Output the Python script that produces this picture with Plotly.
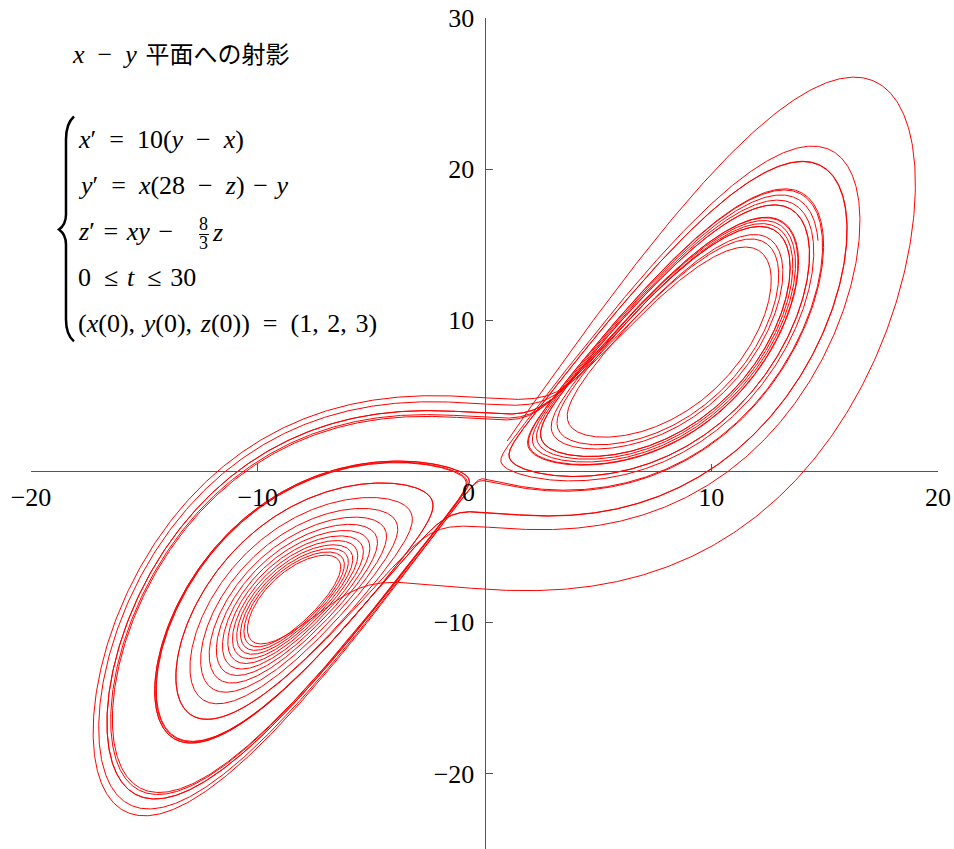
"""Lorenz attractor, projection onto the x-y plane"""

import plotly.graph_objects as go

# system parameters and settings shown in the chart
SIGMA = 10.0
RHO = 28.0
BETA = 8.0 / 3.0
T_START = 0.0
T_END = 30.0
INITIAL = (1.0, 2.0, 3.0)
N_STEPS = 150000

x_ticks = [-20, -10, 10, 20]
y_ticks = [-20, -10, 10, 20, 30]

EN = "\u2002"   # wide space round relations
MS = "\u2004"   # medium space

title_latin = f"<i>x</i>{EN}−{EN}<i>y</i>{MS}"
title_cjk = "平面への射影"
eq_lines = [
    f"<i>x</i>′{EN}={EN}10(<i>y</i>{EN}−{EN}<i>x</i>)",
    f"<i>y</i>′{EN}={EN}<i>x</i>(28{EN}−{EN}<i>z</i>){MS}−{MS}<i>y</i>",
    f"<i>z</i>′{MS}={MS}<i>xy</i>{MS}−",
    f"0{EN}≤{MS}<i>t</i>{EN}≤{MS}30",
    f"(<i>x</i>(0),{MS}<i>y</i>(0),{MS}<i>z</i>(0)){EN}={EN}(1,{MS}2,{MS}3)",
]


def lorenz(x, y, z):
    return SIGMA * (y - x), x * (RHO - z) - y, x * y - BETA * z


def solve():
    h = (T_END - T_START) / N_STEPS
    x, y, z = INITIAL
    xs, ys = [x], [y]
    for i in range(N_STEPS):
        k1 = lorenz(x, y, z)
        k2 = lorenz(x + h / 2 * k1[0], y + h / 2 * k1[1], z + h / 2 * k1[2])
        k3 = lorenz(x + h / 2 * k2[0], y + h / 2 * k2[1], z + h / 2 * k2[2])
        k4 = lorenz(x + h * k3[0], y + h * k3[1], z + h * k3[2])
        x += h / 6 * (k1[0] + 2 * k2[0] + 2 * k3[0] + k4[0])
        y += h / 6 * (k1[1] + 2 * k2[1] + 2 * k3[1] + k4[1])
        z += h / 6 * (k1[2] + 2 * k2[2] + 2 * k3[2] + k4[2])
        if (i + 1) % 4 == 0:
            xs.append(x)
            ys.append(y)
    return xs, ys


# screen pixel -> data helpers for placing the text block
def px2x(px):
    return -20 + (px - 31) / 22.683


def py2y(py):
    return (471.9 - py) / 15.115


SERIF = "Liberation Serif, Noto Sans CJK JP"
TXT = dict(family=SERIF, size=26, color="black")
SMALL = dict(family=SERIF, size=18, color="black")

xs, ys = solve()

fig = go.Figure(
    go.Scatter(x=xs, y=ys, mode="lines", line=dict(color="#ff0000", width=1),
               hoverinfo="skip", showlegend=False)
)

axis_common = dict(
    showline=True, linecolor="#555", linewidth=1,
    ticks="inside", ticklen=7, tickcolor="#555", tickwidth=1,
    showgrid=False, zeroline=False, tickfont=TXT, ticklabeloverflow="allow",
)
fig.update_xaxes(range=[-20, 20], tickvals=x_ticks,
                 ticktext=[str(v).replace("-", "−") for v in x_ticks],
                 anchor="free", position=25 / 55, ticklabelstandoff=3, **axis_common)
fig.update_yaxes(range=[-25, 30], tickvals=y_ticks,
                 ticktext=[str(v).replace("-", "−") for v in y_ticks],
                 anchor="free", position=0.5, ticklabelstandoff=5, **axis_common)

annots = [
    dict(x=0, y=0, text="0", xanchor="right", yanchor="top", xshift=-8, yshift=-5,
         showarrow=False, font=TXT),
    dict(x=px2x(70), y=py2y(55),
         text=f"{title_latin}<span style='font-size:24px'>{title_cjk}</span>",
         xanchor="left", yanchor="middle", showarrow=False, font=TXT),
]
for i, line in enumerate(eq_lines):
    annots.append(dict(x=px2x(76), y=py2y(140 + 46 * i), text=line, xanchor="left",
                       yanchor="middle", showarrow=False, font=TXT))
# the 8/3 fraction and trailing z on line 3
fx = 204
annots += [
    dict(x=px2x(fx), y=py2y(225), text="8", xanchor="center", yanchor="middle",
         showarrow=False, font=SMALL),
    dict(x=px2x(fx), y=py2y(244), text="3", xanchor="center", yanchor="middle",
         showarrow=False, font=SMALL),
    dict(x=px2x(fx + 6), y=py2y(233), text="<i>z</i>", xanchor="left", yanchor="middle",
         showarrow=False, font=TXT),
]
fig.update_layout(annotations=annots)

# fraction bar
fig.add_shape(type="line", x0=px2x(fx - 5), x1=px2x(fx + 5), y0=py2y(235), y1=py2y(235),
              line=dict(color="black", width=1))

# left brace
pts = [(74, 117), (66, 124), (66, 140), (66, 215), (66, 225), (59, 230),
       (66, 235), (66, 245), (66, 320), (66, 335), (74, 342)]
P = [(px2x(a), py2y(b)) for a, b in pts]
path = "M {} {} Q {} {} {} {} L {} {} Q {} {} {} {} Q {} {} {} {} L {} {} Q {} {} {} {}".format(
    *P[0], *P[1], *P[2], *P[3], *P[4], *P[5], *P[6], *P[7], *P[8], *P[9], *P[10])
fig.add_shape(type="path", path=path, line=dict(color="black", width=2.5))

fig.update_layout(
    width=954, height=849,
    margin=dict(l=31, r=16, t=18, b=0),
    plot_bgcolor="white", paper_bgcolor="white",
)

# drop the default page margin so the figure fills the window exactly
fig.write_html("out.html", config={"displayModeBar": False},
               post_script="document.body.style.margin='0';")
